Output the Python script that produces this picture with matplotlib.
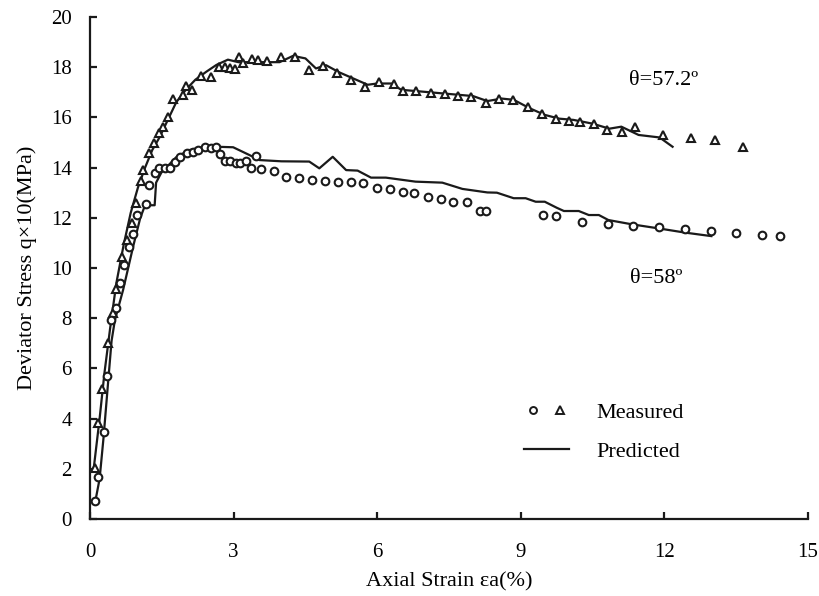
import matplotlib.pyplot as plt
from matplotlib.lines import Line2D
from matplotlib.legend_handler import HandlerTuple

plt.rcParams['font.family'] = ['Liberation Serif', 'DejaVu Serif']

# measured, theta = 57.2 (triangles)
tri_x = [0.10, 0.17, 0.26, 0.38, 0.49, 0.55, 0.67, 0.78, 0.87, 0.97,
         1.06, 1.11, 1.23, 1.33, 1.44, 1.53, 1.63, 1.74, 1.94, 2.01,
         2.13, 2.31, 2.52, 2.69, 2.82, 2.93, 3.03, 3.11, 3.19, 3.39,
         3.51, 3.69, 3.99, 4.29, 4.58, 4.875, 5.16, 5.45, 5.74, 6.04,
         6.34, 6.53, 6.82, 7.12, 7.41, 7.69, 7.96, 8.28, 8.54, 8.83,
         9.15, 9.44, 9.74, 10.01, 10.23, 10.52, 10.8, 11.11, 11.39, 11.98,
         12.56, 13.05, 13.65]
tri_y = [2.02, 3.84, 5.18, 7.0, 8.2, 9.15, 10.45, 11.12, 11.78, 12.6,
         13.47, 13.9, 14.57, 14.97, 15.37, 15.63, 16.03, 16.72, 16.89, 17.25,
         17.09, 17.65, 17.6, 18.02, 18.02, 17.98, 17.93, 18.39, 18.18, 18.31,
         18.29, 18.26, 18.42, 18.39, 17.89, 18.05, 17.76, 17.49, 17.2, 17.41,
         17.33, 17.06, 17.04, 16.98, 16.93, 16.86, 16.83, 16.59, 16.73, 16.69,
         16.4, 16.14, 15.92, 15.85, 15.8, 15.74, 15.5, 15.43, 15.6, 15.3,
         15.17, 15.1, 14.81]

# measured, theta = 58 (circles)
cir_x = [0.10, 0.17, 0.29, 0.35, 0.44, 0.535, 0.625, 0.715, 0.81, 0.89,
         0.985, 1.16, 1.23, 1.35, 1.44, 1.56, 1.67, 1.77, 1.875, 2.03,
         2.15, 2.26, 2.4, 2.52, 2.625, 2.72, 2.83, 2.93, 3.04, 3.14,
         3.25, 3.37, 3.46, 3.58, 3.84, 4.1, 4.36, 4.63, 4.9, 5.17,
         5.45, 5.71, 5.99, 6.26, 6.53, 6.77, 7.07, 7.33, 7.59, 7.87,
         8.14, 8.28, 9.47, 9.74, 10.28, 10.82, 11.35, 11.89, 12.43, 12.98,
         13.49, 14.03, 14.41]
cir_y = [0.72, 1.69, 3.45, 5.7, 7.93, 8.42, 9.39, 10.12, 10.85, 11.35,
         12.11, 12.55, 13.3, 13.77, 13.97, 13.97, 14.0, 14.24, 14.43, 14.6,
         14.63, 14.7, 14.84, 14.77, 14.81, 14.54, 14.26, 14.26, 14.2, 14.2,
         14.26, 13.97, 14.46, 13.94, 13.88, 13.61, 13.57, 13.5, 13.47, 13.44,
         13.44, 13.37, 13.17, 13.15, 13.02, 13.0, 12.82, 12.75, 12.64, 12.62,
         12.28, 12.28, 12.11, 12.07, 11.83, 11.75, 11.67, 11.62, 11.55, 11.49,
         11.38, 11.31, 11.27]

# predicted, theta = 57.2
p1_x = [0.07, 0.2, 0.3, 0.42, 0.55, 0.7, 0.85, 1.0, 1.15, 1.3,
        1.45, 1.6, 1.8, 2.0, 2.2, 2.43, 2.64, 2.88, 3.1, 3.4,
        3.96, 4.24, 4.5, 4.72, 4.93, 5.2, 5.5, 5.8, 6.0, 6.3,
        6.5, 6.8, 7.1, 7.4, 7.7, 8.0, 8.3, 8.6, 8.85, 9.2,
        9.5, 9.8, 10.1, 10.5, 10.85, 11.1, 11.46, 11.9, 12.17]
p1_y = [1.9, 4.0, 5.8, 7.6, 9.4, 10.9, 12.2, 13.2, 14.0, 14.7,
        15.2, 15.8, 16.6, 17.1, 17.5, 17.82, 18.09, 18.3, 18.2, 18.2,
        18.2, 18.45, 18.35, 17.95, 18.08, 17.8, 17.55, 17.3, 17.35, 17.35,
        17.1, 17.05, 17.0, 16.95, 16.9, 16.85, 16.65, 16.75, 16.7, 16.35,
        16.1, 15.95, 15.9, 15.75, 15.55, 15.63, 15.3, 15.2, 14.83]

# predicted, theta = 58
p2_x = [0.1, 0.2, 0.28, 0.38, 0.45, 0.52, 0.69, 0.9, 1.05, 1.15,
        1.35, 1.38, 1.49, 1.81, 2.08, 2.4, 2.64, 2.99, 3.33, 3.54,
        4.0, 4.58, 4.79, 5.07, 5.35, 5.59, 5.87, 6.18, 6.8, 7.36,
        7.78, 8.3, 8.5, 8.85, 9.1, 9.31, 9.5, 9.75, 9.9, 10.21,
        10.42, 10.63, 10.83, 11.32, 11.87, 12.43, 12.98]
p2_y = [0.6, 1.6, 3.2, 5.5, 7.1, 7.93, 9.12, 10.85, 12.0, 12.5,
        12.5, 13.4, 13.8, 14.43, 14.7, 14.83, 14.83, 14.81, 14.5, 14.3,
        14.25, 14.24, 13.97, 14.43, 13.9, 13.88, 13.6, 13.6, 13.44, 13.4,
        13.15, 13.01, 13.0, 12.78, 12.78, 12.64, 12.64, 12.4, 12.27, 12.27,
        12.11, 12.11, 11.91, 11.74, 11.58, 11.41, 11.27]

fig = plt.figure(figsize=(8.2, 5.96), dpi=100)
ax = fig.add_axes([0.1098, 0.1292, 0.8756, 0.8423])

ink = '#1a1a1a'
lw = 1.6
fs = 16
ax.plot(p1_x, p1_y, color=ink, lw=lw)
ax.plot(p2_x, p2_y, color=ink, lw=lw)
ax.plot(tri_x, tri_y, ls='none', marker='^', ms=6, mfc='white',
        mec=ink, mew=1.5)
ax.plot(cir_x, cir_y, ls='none', marker='o', ms=5.5, mfc='white',
        mec=ink, mew=1.5)

ax.text(11.25, 17.45, 'θ=57.2º', fontsize=fs, va='center', ha='left')
ax.text(11.28, 9.6, 'θ=58º', fontsize=fs, va='center', ha='left')

ax.set_xlim(0, 15)
ax.set_ylim(0, 20)
ax.set_xticks(range(0, 16, 3))
ax.set_yticks(range(0, 21, 2))
for side in ['top', 'right']:
    ax.spines[side].set_visible(False)
for side in ['left', 'bottom']:
    ax.spines[side].set_linewidth(1.6)
    ax.spines[side].set_color(ink)
ax.tick_params(direction='in', length=5, width=1.6, labelsize=15, color=ink)
ax.tick_params(axis='x', pad=17)
ax.tick_params(axis='y', pad=13)
ax.set_xlabel('Axial Strain εa(%)', fontsize=fs, labelpad=8)
ax.set_ylabel('Deviator Stress q×10(MPa)', fontsize=fs, labelpad=10)

h_meas = (Line2D([], [], ls='none', marker='o', ms=5, mfc='white',
                 mec=ink, mew=1.4),
          Line2D([], [], ls='none', marker='^', ms=5.5, mfc='white',
                 mec=ink, mew=1.4))
h_pred = Line2D([], [], color=ink, lw=lw)
ax.legend([h_meas, h_pred], ['Measured', 'Predicted'],
          handler_map={tuple: HandlerTuple(ndivide=None, pad=0.4)},
          frameon=False, fontsize=fs, handlelength=2.0, handletextpad=1.26,
          labelspacing=0.85, loc='upper left', bbox_to_anchor=(0.577, 0.273))

plt.savefig('out.png', dpi=100)
